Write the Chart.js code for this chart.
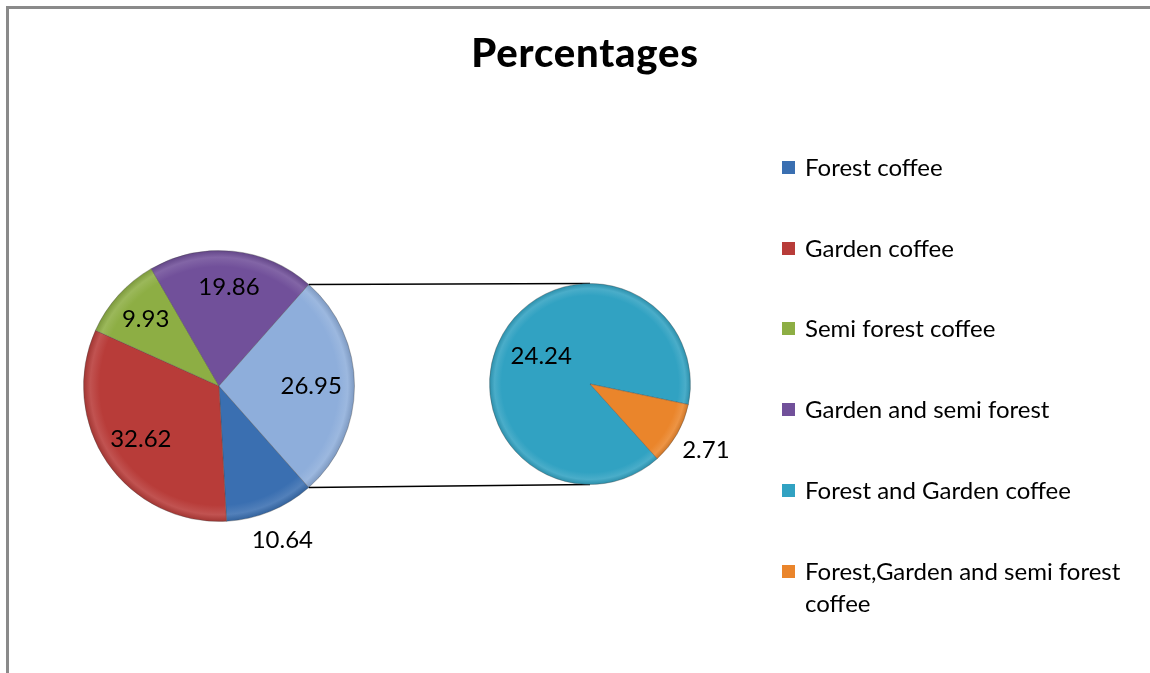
<!DOCTYPE html>
<html>
<head>
<meta charset="utf-8">
<script src="https://cdn.jsdelivr.net/npm/chart.js@4.4.7/dist/chart.umd.min.js"></script>
<style>
  html, body { margin: 0; padding: 0; background: #fff; width: 1150px; height: 673px; overflow: hidden; }
  body { position: relative; font-family: Lato, "Liberation Sans", sans-serif; color: #000; }
  #frame { position: absolute; left: 6px; top: 6px; width: 1300px; height: 800px;
           border-left: 3px solid #8a8a8a; border-top: 3px solid #8a8a8a; }
  canvas { position: absolute; left: 0; top: 0; }
  #title { position: absolute; left: 0; top: 28px; width: 1170px; text-align: center;
           font-weight: 900; font-size: 40px; letter-spacing: 0.8px; }
  .item { position: absolute; left: 782px; width: 360px; font-size: 24px; line-height: 32px; padding-left: 23px; }
  .item i { position: absolute; left: 0; top: 10px; width: 13px; height: 13px; }
</style>
</head>
<body>
<div id="frame"></div>
<canvas id="mainPie" width="1150" height="673"></canvas>
<canvas id="subPie" width="1150" height="673"></canvas>
<div id="title">Percentages</div>
<div id="legend"></div>
<script>
  // main pie: the four categories plus the "other" slice split out to the right pie
  var mainLabels = ["Forest coffee", "Garden coffee", "Semi forest coffee", "Garden and semi forest", "Other"];
  var mainValues = [10.64, 32.62, 9.93, 19.86, 26.95];
  var mainColors = ["#3a6fb1", "#b83c39", "#8dae44", "#71509a", "#8eaedb"];

  var subLabels = ["Forest and Garden coffee", "Forest,Garden and semi forest coffee"];
  var subValues = [24.24, 2.71];
  var subColors = ["#31a2c2", "#ea852b"];

  // label distance from centre, as a fraction of the radius
  var mainLabelRadius = [1.23, 0.7, 0.73, 0.73, 0.68];
  var subLabelRadius = [0.56, 1.33];

  var legendLabels = mainLabels.slice(0, 4).concat(subLabels);
  var legendColors = mainColors.slice(0, 4).concat(subColors);

  var legendHtml = legendLabels.map(function (l, i) {
    var top = 151 + i * 80.7;
    return '<div class="item" style="top:' + top + 'px"><i style="background:' + legendColors[i] + '"></i>' + l + "</div>";
  }).join("");
  document.getElementById("legend").innerHTML = legendHtml;

  function shade(hex, k) {
    var n = parseInt(hex.slice(1), 16);
    var r = (n >> 16) & 255, g = (n >> 8) & 255, b = n & 255;
    function f(c) { return Math.max(0, Math.min(255, Math.round(k > 0 ? c + (255 - c) * k : c * (1 + k)))); }
    return "rgb(" + f(r) + "," + f(g) + "," + f(b) + ")";
  }

  // soft bevel look: slightly lighter rim, darker outer edge
  function bevel(colors) {
    return function (c) {
      var arc = c.element;
      var base = colors[c.dataIndex];
      if (!arc || !arc.outerRadius) return base;
      var g = c.chart.ctx.createRadialGradient(arc.x, arc.y, 0, arc.x, arc.y, arc.outerRadius);
      g.addColorStop(0, base);
      g.addColorStop(0.88, base);
      g.addColorStop(0.95, shade(base, 0.12));
      g.addColorStop(1, shade(base, -0.12));
      return g;
    };
  }

  var sliceLabels = {
    id: "sliceLabels",
    afterDatasetsDraw: function (chart, args, opts) {
      var ctx = chart.ctx;
      var meta = chart.getDatasetMeta(0);
      var values = chart.data.datasets[0].data;
      ctx.save();
      ctx.font = "24px Lato, 'Liberation Sans', sans-serif";
      ctx.fillStyle = "#000";
      ctx.textAlign = "center";
      ctx.textBaseline = "middle";
      meta.data.forEach(function (arc, i) {
        var mid = (arc.startAngle + arc.endAngle) / 2;
        var r = arc.outerRadius * opts.radius[i];
        ctx.fillText(values[i].toFixed(2), arc.x + Math.cos(mid) * r, arc.y + Math.sin(mid) * r);
      });
      ctx.restore();
    }
  };

  Chart.defaults.animation = false;

  var otherAngle = mainValues[4] / mainValues.reduce(function (a, b) { return a + b; }, 0) * 360;

  var mainChart = new Chart(document.getElementById("mainPie"), {
    type: "pie",
    data: {
      labels: mainLabels,
      datasets: [{
        data: mainValues,
        backgroundColor: bevel(mainColors),
        borderColor: "rgba(70,70,70,0.35)",
        borderWidth: 1,
      }],
    },
    options: {
      responsive: false,
      rotation: 90 + otherAngle / 2,
      layout: { padding: { left: 83, top: 250, right: 795, bottom: 151 } },
      plugins: {
        legend: { display: false },
        tooltip: { enabled: false },
        sliceLabels: { radius: mainLabelRadius },
      },
    },
    plugins: [sliceLabels],
  });

  var connectors = {
    id: "connectors",
    beforeDatasetsDraw: function (chart) {
      var other = mainChart.getDatasetMeta(0).data[4];
      var sub = chart.getDatasetMeta(0).data[0];
      var ctx = chart.ctx;
      ctx.save();
      ctx.strokeStyle = "#000";
      ctx.lineWidth = 1.5;
      ctx.beginPath();
      ctx.moveTo(other.x + Math.cos(other.startAngle) * other.outerRadius, other.y + Math.sin(other.startAngle) * other.outerRadius);
      ctx.lineTo(sub.x, sub.y - sub.outerRadius);
      ctx.moveTo(other.x + Math.cos(other.endAngle) * other.outerRadius, other.y + Math.sin(other.endAngle) * other.outerRadius);
      ctx.lineTo(sub.x, sub.y + sub.outerRadius);
      ctx.stroke();
      ctx.restore();
    }
  };

  new Chart(document.getElementById("subPie"), {
    type: "pie",
    data: {
      labels: subLabels,
      datasets: [{
        data: subValues,
        backgroundColor: bevel(subColors),
        borderColor: "rgba(70,70,70,0.35)",
        borderWidth: 1,
      }],
    },
    options: {
      responsive: false,
      rotation: 138,
      layout: { padding: { left: 489, top: 283, right: 459, bottom: 188 } },
      plugins: {
        legend: { display: false },
        tooltip: { enabled: false },
        sliceLabels: { radius: subLabelRadius },
      },
    },
    plugins: [sliceLabels, connectors],
  });
</script>
</body>
</html>
